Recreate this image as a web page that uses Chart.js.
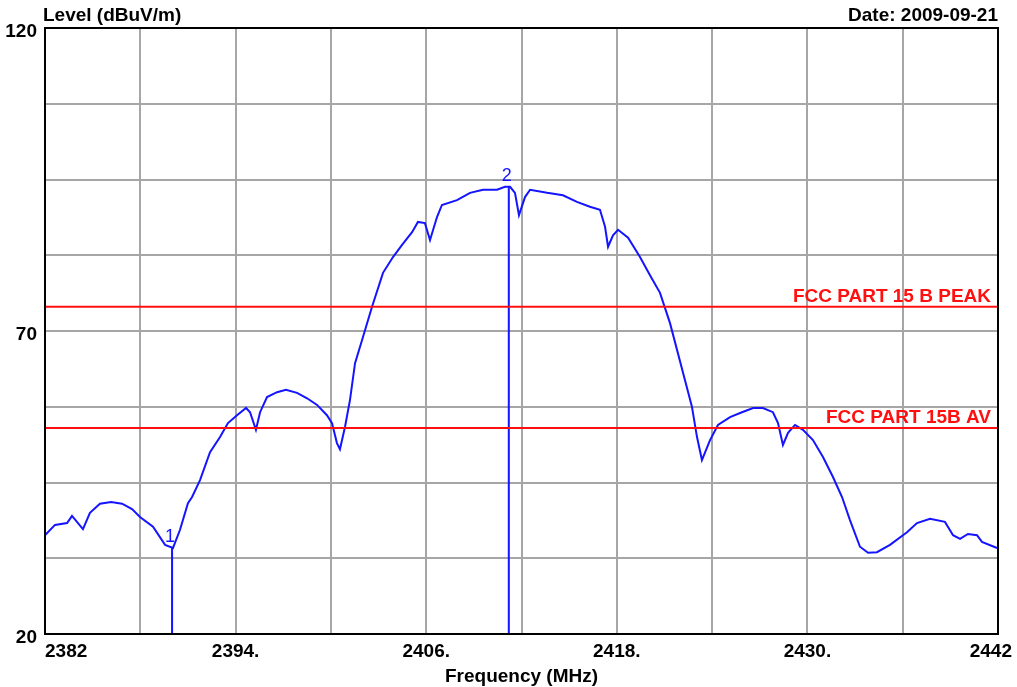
<!DOCTYPE html>
<html>
<head>
<meta charset="utf-8">
<script src="https://cdn.jsdelivr.net/npm/chart.js@4.4.1/dist/chart.umd.min.js"></script>
<style>
  body { margin: 0; background: #fff; }
  #chart { display: block; }
</style>
</head>
<body>
<canvas id="chart" width="1017" height="687"></canvas>
<script>
// Trace
const freqMHz = [
  2382.00, 2382.63, 2383.39, 2383.70, 2384.39, 2384.83, 2385.46, 2386.16, 2386.85, 2387.48,
  2387.98, 2388.80, 2389.56, 2390.06, 2390.50, 2391.00, 2391.26, 2391.76, 2392.39, 2393.02,
  2393.52, 2394.09, 2394.66, 2394.91, 2395.28, 2395.54, 2395.98, 2396.61, 2397.17, 2397.87,
  2398.50, 2399.13, 2399.75, 2400.07, 2400.38, 2400.57, 2400.89, 2401.20, 2401.52, 2402.02,
  2402.59, 2403.28, 2403.91, 2404.48, 2405.11, 2405.48, 2405.92, 2406.24, 2406.68, 2406.99,
  2407.94, 2408.76, 2409.58, 2410.46, 2410.96, 2411.28, 2411.59, 2411.84, 2412.22, 2412.54,
  2413.61, 2414.61, 2415.49, 2416.31, 2416.94, 2417.26, 2417.45, 2417.76, 2418.08, 2418.71,
  2419.46, 2420.09, 2420.72, 2421.35, 2422.29, 2422.73, 2423.05, 2423.36, 2423.87, 2424.37,
  2425.13, 2425.88, 2426.58, 2427.20, 2427.83, 2428.15, 2428.46, 2428.78, 2429.22, 2429.72,
  2430.35, 2430.98, 2431.61, 2432.18, 2432.68, 2433.31, 2433.82, 2434.38, 2435.20, 2436.27,
  2436.90, 2437.72, 2438.66, 2439.17, 2439.61, 2440.11, 2440.68, 2440.99, 2441.94
];
const levelDb = [
  36.3, 38.0, 38.3, 39.5, 37.3, 40.0, 41.5, 41.8, 41.5, 40.6,
  39.3, 37.7, 34.7, 34.2, 37.2, 41.6, 42.6, 45.4, 50.0, 52.5,
  54.8, 56.1, 57.3, 56.6, 53.7, 56.6, 59.1, 59.9, 60.3, 59.8,
  58.9, 57.8, 56.1, 54.8, 51.5, 50.5, 54.2, 58.6, 64.7, 69.0,
  74.0, 79.6, 82.2, 84.2, 86.3, 88.0, 87.8, 85.0, 88.8, 90.8,
  91.6, 92.8, 93.3, 93.3, 93.8, 93.8, 92.8, 89.1, 92.1, 93.3,
  92.8, 92.4, 91.3, 90.5, 90.0, 87.2, 83.9, 85.8, 86.7, 85.4,
  82.2, 79.2, 76.3, 71.3, 61.9, 57.5, 52.5, 48.7, 52.0, 54.5,
  55.8, 56.6, 57.3, 57.3, 56.6, 54.8, 51.2, 53.2, 54.5, 53.7,
  52.0, 49.2, 45.9, 42.6, 38.8, 34.4, 33.4, 33.5, 34.7, 36.8,
  38.3, 39.0, 38.5, 36.3, 35.7, 36.5, 36.3, 35.2, 34.2
];

// Markers
const markerNames = ['1', '2'];
const markerFreq = [2390.0, 2411.2];
const markerLevel = [34.2, 93.8];

// Limit lines
const limitNames = ['FCC PART 15 B PEAK', 'FCC PART 15B AV'];
const limitLevels = [74, 54];

// Axes
const xMin = 2382, xMax = 2442, xGridStep = 6;
const yMin = 20, yMax = 120, yGridStep = 12.5;
const xTickValues = [2382, 2394, 2406, 2418, 2430, 2442];
const xTickLabels = ['2382', '2394.', '2406.', '2418.', '2430.', '2442'];
const yTickValues = [20, 70, 120];
const yTickLabels = ['20', '70', '120'];

const BLUE = '#1414ff';
const RED = '#ff1010';
const FONT = 'Liberation Sans, Arial, sans-serif';

function steps(from, to, step) {
    const out = [];
    for (let v = from; v <= to + 1e-9; v += step) out.push({ value: v });
    return out;
}

const datasets = [];

limitLevels.forEach(function(lvl) {
    datasets.push({
        data: [{ x: xMin, y: lvl }, { x: xMax, y: lvl }],
        borderColor: RED,
        borderWidth: 2,
        pointRadius: 0
    });
});

datasets.push({
    data: freqMHz.map((f, i) => ({ x: f, y: levelDb[i] })),
    borderColor: BLUE,
    borderWidth: 2,
    pointRadius: 0,
    tension: 0
});

markerFreq.forEach(function(f, i) {
    datasets.push({
        data: [{ x: f, y: markerLevel[i] }, { x: f, y: yMin }],
        borderColor: BLUE,
        borderWidth: 2,
        pointRadius: 0
    });
});

// Frame, labels and texts
const annotate = {
    id: 'annotate',
    afterDraw(chart) {
        const ctx = chart.ctx;
        const a = chart.chartArea;
        const xs = chart.scales.x;
        const ys = chart.scales.y;

        ctx.save();
        ctx.strokeStyle = '#000';
        ctx.lineWidth = 2;
        ctx.strokeRect(a.left, a.top, a.right - a.left, a.bottom - a.top);

        ctx.fillStyle = '#000';
        ctx.font = 'bold 19px ' + FONT;
        ctx.textBaseline = 'alphabetic';

        // y tick labels
        ctx.textAlign = 'right';
        yTickValues.forEach(function(v, i) {
            ctx.fillText(yTickLabels[i], a.left - 8, ys.getPixelForValue(v) + 9);
        });

        // x tick labels
        xTickValues.forEach(function(v, i) {
            const px = xs.getPixelForValue(v);
            if (i === 0) {
                ctx.textAlign = 'left';
                ctx.fillText(xTickLabels[i], px, a.bottom + 23);
            } else if (i === xTickValues.length - 1) {
                ctx.textAlign = 'right';
                ctx.fillText(xTickLabels[i], px + 14, a.bottom + 23);
            } else {
                ctx.textAlign = 'center';
                ctx.fillText(xTickLabels[i], px, a.bottom + 23);
            }
        });

        // titles
        ctx.textAlign = 'left';
        ctx.fillText('Level (dBuV/m)', a.left - 2, 21);
        ctx.textAlign = 'right';
        ctx.fillText('Date: 2009-09-21', a.right, 21);
        ctx.textAlign = 'center';
        ctx.fillText('Frequency (MHz)', (a.left + a.right) / 2, 682);

        // limit line names
        ctx.fillStyle = RED;
        ctx.textAlign = 'right';
        limitLevels.forEach(function(lvl, i) {
            ctx.fillText(limitNames[i], a.right - 7, ys.getPixelForValue(lvl) - 5);
        });

        // marker numbers
        ctx.fillStyle = BLUE;
        ctx.font = '18px ' + FONT;
        ctx.textAlign = 'center';
        markerFreq.forEach(function(f, i) {
            ctx.fillText(markerNames[i], xs.getPixelForValue(f) - 2, ys.getPixelForValue(markerLevel[i]) - 6);
        });
        ctx.restore();
    }
};

new Chart(document.getElementById('chart'), {
    type: 'line',
    data: { datasets: datasets },
    options: {
        responsive: false,
        animation: false,
        layout: { padding: { left: 45, right: 19, top: 28, bottom: 53 } },
        plugins: {
            legend: { display: false },
            tooltip: { enabled: false }
        },
        scales: {
            x: {
                type: 'linear',
                min: xMin,
                max: xMax,
                afterBuildTicks: function(scale) { scale.ticks = steps(xMin, xMax, xGridStep); },
                afterFit: function(scale) { scale.height = 0; },
                ticks: { display: false },
                border: { display: false },
                grid: { color: '#a6a6a6', lineWidth: 2, drawTicks: false }
            },
            y: {
                type: 'linear',
                min: yMin,
                max: yMax,
                afterBuildTicks: function(scale) { scale.ticks = steps(yMin, yMax, yGridStep); },
                afterFit: function(scale) { scale.width = 0; },
                ticks: { display: false },
                border: { display: false },
                grid: { color: '#a6a6a6', lineWidth: 2, drawTicks: false }
            }
        }
    },
    plugins: [annotate]
});
</script>
</body>
</html>
